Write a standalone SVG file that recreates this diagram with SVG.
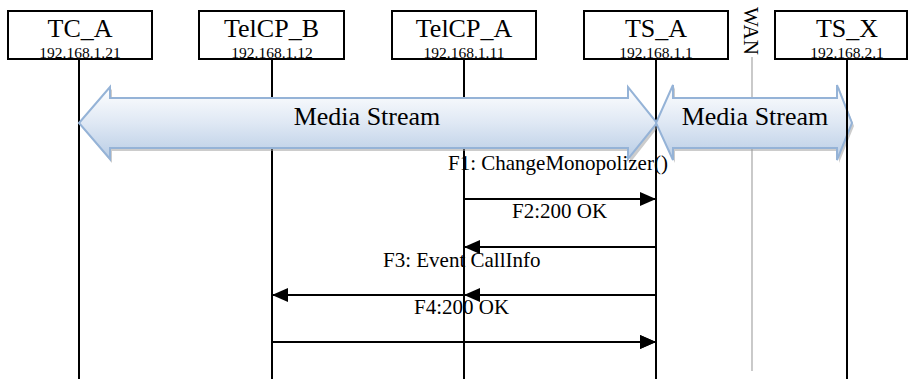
<svg xmlns="http://www.w3.org/2000/svg" width="909" height="379" viewBox="0 0 909 379">
<style>
.box{fill:#fff;stroke:#000;stroke-width:2}
.title{font-family:"Liberation Serif","Times New Roman",serif;font-size:26px;fill:#000;text-anchor:middle}
.ip{font-family:"Liberation Serif","Times New Roman",serif;font-size:15.5px;fill:#000;text-anchor:middle}
.life{stroke:#000;stroke-width:2;fill:none}
.wan{stroke:#a6a6a6;stroke-width:1.2;fill:none}
.msg{stroke:#000;stroke-width:2;fill:none;marker-end:url(#ah)}
.lbl{font-family:"Liberation Serif","Times New Roman",serif;font-size:21px;fill:#000}
.big{fill:url(#bg);stroke:#95b3d7;stroke-width:2;stroke-linejoin:miter}
.shadow{fill:#9a9a9a;opacity:0.5}
.ms{font-family:"Liberation Serif","Times New Roman",serif;font-size:26px;fill:#000;text-anchor:middle}
</style>
<defs>
<linearGradient id="bg" x1="0" y1="0" x2="0" y2="1">
<stop offset="0" stop-color="#ffffff"/>
<stop offset="0.5" stop-color="#dfe8f4"/>
<stop offset="1" stop-color="#b9cde5"/>
</linearGradient>
<marker id="ah" markerUnits="userSpaceOnUse" markerWidth="16" markerHeight="14" refX="16" refY="7" orient="auto">
<path d="M0,0 L16,7 L0,14 z" fill="#000"/>
</marker>
</defs>
<rect width="909" height="379" fill="#fff"/>
<g id="lifelines">
<line class="life" x1="79" y1="59" x2="79" y2="379"/>
<line class="life" x1="272" y1="59" x2="272" y2="379"/>
<line class="life" x1="464" y1="59" x2="464" y2="379"/>
<line class="life" x1="656" y1="59" x2="656" y2="379"/>
<line class="life" x1="847" y1="59" x2="847" y2="379"/>
<line class="wan" x1="752" y1="57" x2="752" y2="371"/>
</g>
<g id="TC_A">
<rect class="box" x="8" y="11" width="144" height="48"/>
<text class="title" x="80" y="37">TC_A</text>
<text class="ip" x="80" y="58">192.168.1.21</text>
</g>
<g id="TelCP_B">
<rect class="box" x="199" y="11" width="145" height="48"/>
<text class="title" x="271.5" y="37">TelCP_B</text>
<text class="ip" x="272" y="58">192.168.1.12</text>
</g>
<g id="TelCP_A">
<rect class="box" x="392" y="11" width="144" height="48"/>
<text class="title" x="464" y="37">TelCP_A</text>
<text class="ip" x="464" y="58">192.168.1.11</text>
</g>
<g id="TS_A">
<rect class="box" x="584" y="11" width="144" height="48"/>
<text class="title" x="656" y="37">TS_A</text>
<text class="ip" x="656" y="58">192.168.1.1</text>
</g>
<g id="TS_X">
<rect class="box" x="775" y="11" width="132" height="48"/>
<text class="title" x="847" y="37">TS_X</text>
<text class="ip" x="847" y="58">192.168.2.1</text>
</g>
<g id="WAN">
<text class="lbl" font-size="21" transform="translate(744,7) rotate(90)">WAN</text>
</g>
<g id="media1">
<polygon class="shadow" points="81,126 112,89 112,101 630,101 630,89 659,126 630,163 630,151 112,151 112,163"/>
<polygon class="big" points="79,123 110,87 110,98 628,98 628,87 657,123 628,159 628,148 110,148 110,159"/>
<text class="ms" x="367" y="125">Media Stream</text>
</g>
<g id="media2">
<polygon class="shadow" points="658,126 675,87 675,101 839,101 839,87 854,126 839,163 839,151 675,151 675,163"/>
<polygon class="big" points="656,123 673,85 673,98 837,98 837,85 852,123 837,160 837,148 673,148 673,160"/>
<text class="ms" x="755" y="125">Media Stream</text>
</g>
<g id="connectors">
<line class="msg" x1="464" y1="199" x2="656" y2="199"/>
<line class="msg" x1="656" y1="247" x2="464" y2="247"/>
<line class="msg" x1="656" y1="295" x2="272" y2="295"/>
<line class="msg" x1="656" y1="295" x2="464" y2="295"/>
<line class="msg" x1="272" y1="342" x2="656" y2="342"/>
<line class="msg" x1="464" y1="342" x2="656" y2="342"/>
<line class="life" x1="847" y1="85" x2="847" y2="160"/>
</g>
<g id="labels">
<text class="lbl" x="448" y="170">F1: ChangeMonopolizer()</text>
<text class="lbl" x="512" y="218">F2:200 OK</text>
<text class="lbl" x="383" y="267">F3: Event CallInfo</text>
<text class="lbl" x="414" y="314">F4:200 OK</text>
</g>
</svg>
